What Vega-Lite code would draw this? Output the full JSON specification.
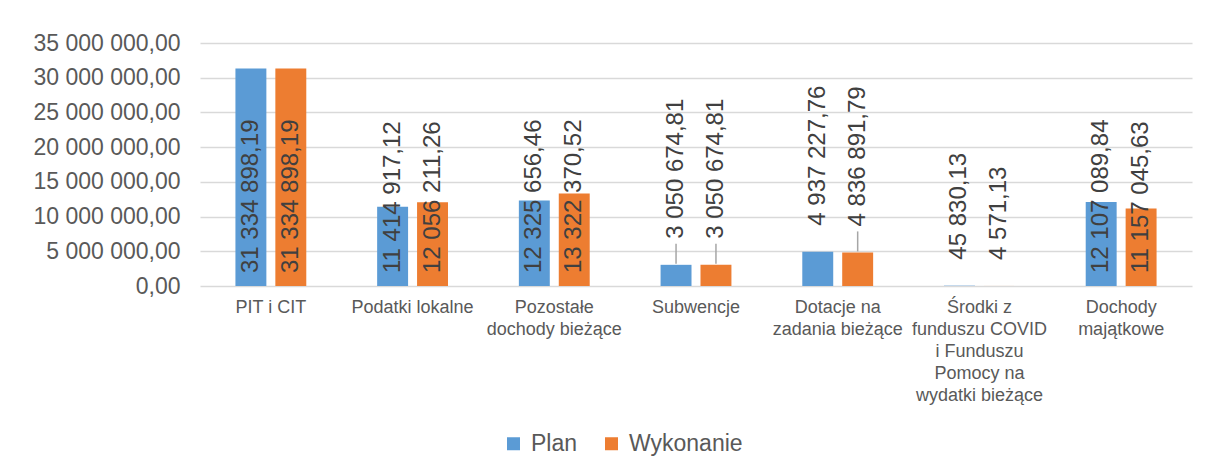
{
  "$schema": "https://vega.github.io/schema/vega-lite/v6.json",
  "width": 992,
  "height": 243,
  "autosize": "none",
  "padding": {"left": 200, "top": 43, "right": 14, "bottom": 182},
  "background": "white",
  "config": {
    "font": "Liberation Sans",
    "view": {"stroke": null},
    "locale": {"number": {"decimal": ",", "thousands": " ", "grouping": [3], "currency": ["", ""]}}
  },
  "data": {
    "values": [
      {"kategoria": "PIT i CIT", "seria": "Plan", "wartosc": 31334898.19},
      {"kategoria": "PIT i CIT", "seria": "Wykonanie", "wartosc": 31334898.19},
      {"kategoria": "Podatki lokalne", "seria": "Plan", "wartosc": 11414917.12},
      {"kategoria": "Podatki lokalne", "seria": "Wykonanie", "wartosc": 12056211.26},
      {"kategoria": "Pozostałe dochody bieżące", "seria": "Plan", "wartosc": 12325656.46},
      {"kategoria": "Pozostałe dochody bieżące", "seria": "Wykonanie", "wartosc": 13322370.52},
      {"kategoria": "Subwencje", "seria": "Plan", "wartosc": 3050674.81},
      {"kategoria": "Subwencje", "seria": "Wykonanie", "wartosc": 3050674.81},
      {"kategoria": "Dotacje na zadania bieżące", "seria": "Plan", "wartosc": 4937227.76},
      {"kategoria": "Dotacje na zadania bieżące", "seria": "Wykonanie", "wartosc": 4836891.79},
      {"kategoria": "Środki z funduszu COVID i Funduszu Pomocy na wydatki bieżące", "seria": "Plan", "wartosc": 45830.13},
      {"kategoria": "Środki z funduszu COVID i Funduszu Pomocy na wydatki bieżące", "seria": "Wykonanie", "wartosc": 4571.13},
      {"kategoria": "Dochody majątkowe", "seria": "Plan", "wartosc": 12107089.84},
      {"kategoria": "Dochody majątkowe", "seria": "Wykonanie", "wartosc": 11157045.63}
    ]
  },
  "encoding": {
    "x": {
      "field": "kategoria",
      "type": "nominal",
      "sort": null,
      "scale": {"paddingInner": 0.5, "paddingOuter": 0.25},
      "axis": {
        "title": null,
        "domain": false,
        "ticks": false,
        "grid": false,
        "labelAngle": 0,
        "labelFontSize": 18,
        "labelColor": "#595959",
        "labelPadding": 12,
        "labelLineHeight": 22,
        "labelLimit": 400,
        "labelOverlap": false,
        "labelExpr": "datum.label == 'Pozostałe dochody bieżące' ? ['Pozostałe', 'dochody bieżące'] : datum.label == 'Dotacje na zadania bieżące' ? ['Dotacje na', 'zadania bieżące'] : datum.label == 'Środki z funduszu COVID i Funduszu Pomocy na wydatki bieżące' ? ['Środki z', 'funduszu COVID', 'i Funduszu', 'Pomocy na', 'wydatki bieżące'] : datum.label == 'Dochody majątkowe' ? ['Dochody', 'majątkowe'] : datum.label"
      }
    },
    "xOffset": {
      "field": "seria",
      "type": "nominal",
      "sort": ["Plan", "Wykonanie"],
      "scale": {"paddingInner": 0.225, "paddingOuter": 0}
    },
    "y": {
      "field": "wartosc",
      "type": "quantitative",
      "scale": {"domain": [0, 35000000], "nice": false},
      "axis": {
        "title": null,
        "values": [0, 5000000, 10000000, 15000000, 20000000, 25000000, 30000000, 35000000],
        "format": ",.2f",
        "domain": false,
        "ticks": false,
        "grid": true,
        "gridColor": "#d9d9d9",
        "gridWidth": 1.5,
        "labelOverlap": false,
        "labelFontSize": 23,
        "labelColor": "#595959",
        "labelPadding": 20
      }
    }
  },
  "layer": [
    {
      "mark": {"type": "bar"},
      "encoding": {
        "color": {
          "field": "seria",
          "type": "nominal",
          "scale": {"domain": ["Plan", "Wykonanie"], "range": ["#5B9BD5", "#ED7D31"]},
          "legend": {
            "title": null,
            "orient": "none",
            "legendX": 302,
            "legendY": 389,
            "direction": "horizontal",
            "symbolType": "square",
            "symbolSize": 169,
            "symbolStrokeWidth": 0,
            "labelFontSize": 23,
            "labelColor": "#595959",
            "labelOffset": 6,
            "columnPadding": 22,
            "padding": 0
          }
        }
      }
    },
    {
      "transform": [{"filter": "datum.wartosc >= 10000000"}],
      "mark": {"type": "text", "angle": -90, "align": "left", "baseline": "middle", "dx": 13, "fontSize": 24, "color": "#404040"},
      "encoding": {
        "y": {
          "datum": 0,
          "type": "quantitative",
          "scale": {"domain": [0, 35000000], "nice": false},
          "axis": {
            "title": null,
            "values": [0, 5000000, 10000000, 15000000, 20000000, 25000000, 30000000, 35000000],
            "format": ",.2f",
            "domain": false,
            "ticks": false,
            "grid": true,
            "gridColor": "#d9d9d9",
            "gridWidth": 1.5,
            "labelOverlap": false,
            "labelFontSize": 23,
            "labelColor": "#595959",
            "labelPadding": 20
          }
        },
        "text": {"field": "wartosc", "type": "quantitative", "format": ",.2f"}
      }
    },
    {
      "transform": [{"filter": "datum.wartosc < 10000000"}],
      "mark": {"type": "text", "angle": -90, "align": "left", "baseline": "middle", "dx": 26, "fontSize": 24, "color": "#404040"},
      "encoding": {
        "text": {"field": "wartosc", "type": "quantitative", "format": ",.2f"}
      }
    },
    {
      "transform": [{"filter": "datum.kategoria == 'Subwencje' || (datum.kategoria == 'Dotacje na zadania bieżące' && datum.seria == 'Wykonanie')"}],
      "mark": {"type": "rule", "color": "#a6a6a6", "strokeWidth": 1.5, "yOffset": -1, "y2Offset": -21},
      "encoding": {
        "y2": {"field": "wartosc"}
      }
    }
  ]
}
